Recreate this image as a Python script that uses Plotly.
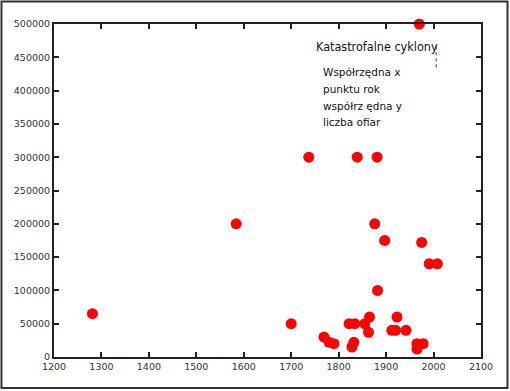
import plotly.graph_objects as go

years = [1281, 1584, 1700, 1737, 1769, 1780, 1790, 1822, 1828, 1832, 1834, 1839,
         1855, 1863, 1865, 1876, 1881, 1882, 1897, 1912, 1920, 1923, 1942,
         1965, 1965, 1970, 1975, 1978, 1991, 2008]
victims = [65000, 200000, 50000, 300000, 30000, 22000, 20000, 50000, 15000, 22000, 50000, 300000,
           50000, 37000, 60000, 200000, 300000, 100000, 175000, 40000, 40000, 60000, 40000,
           20000, 12000, 500000, 172000, 20000, 140000, 140000]

x_ticks = [1200, 1300, 1400, 1500, 1600, 1700, 1800, 1900, 2000, 2100]
y_ticks = [0, 50000, 100000, 150000, 200000, 250000, 300000, 350000, 400000, 450000, 500000]

title_text = "Katastrofalne cyklony"
legend_lines = ["Współrzędna x", "punktu rok", "współrz ędna y", "liczba ofiar"]

fig = go.Figure()
fig.add_trace(go.Scatter(
    x=years, y=victims, mode="markers",
    marker=dict(color="#ff0000", size=11, line=dict(width=0)),
    cliponaxis=False, showlegend=False, hoverinfo="x+y"))

axis_common = dict(
    showgrid=False, zeroline=False, showline=True, linecolor="#222222", linewidth=2,
    mirror="ticks", ticks="inside", ticklen=5, tickwidth=1.5, tickcolor="#222222",
    tickfont=dict(family="DejaVu Sans, sans-serif", size=9.5, color="#333333"))

fig.update_xaxes(range=[1200, 2100], tickvals=x_ticks, ticktext=[str(v) for v in x_ticks], **axis_common)
fig.update_yaxes(range=[0, 500000], tickvals=y_ticks, ticktext=[str(v) for v in y_ticks], **axis_common)

annotations = [
    dict(text=title_text, xref="paper", yref="paper", x=0.608, y=0.932,
         xanchor="left", yanchor="middle", showarrow=False,
         font=dict(family="Liberation Sans Narrow, DejaVu Sans Condensed, sans-serif", size=12.5, color="#111111")),
]
line_y = [0.856, 0.805, 0.754, 0.706]
for txt, yy in zip(legend_lines, line_y):
    annotations.append(dict(text=txt, xref="paper", yref="paper", x=0.626, y=yy,
                            xanchor="left", yanchor="middle", showarrow=False, align="left",
                            font=dict(family="DejaVu Sans, sans-serif", size=10.5, color="#111111")))

fig.update_layout(
    width=510, height=391,
    margin=dict(l=54, r=29, t=24, b=34, autoexpand=False),
    paper_bgcolor="white", plot_bgcolor="white",
    shapes=[
        dict(type="rect", xref="paper", yref="paper", x0=-0.123, x1=1.062, y0=-0.093, y1=1.0676,
             line=dict(color="#333333", width=2), fillcolor="rgba(0,0,0,0)", layer="below"),
        dict(type="line", xref="paper", yref="paper", x0=0.895, x1=0.895, y0=0.87, y1=0.94,
             line=dict(color="#333333", width=1, dash="dot")),
    ],
    annotations=annotations,
)

fig.write_html("out.html", config={"displayModeBar": False},
               post_script="document.body.style.margin='0';document.body.style.padding='0';")
